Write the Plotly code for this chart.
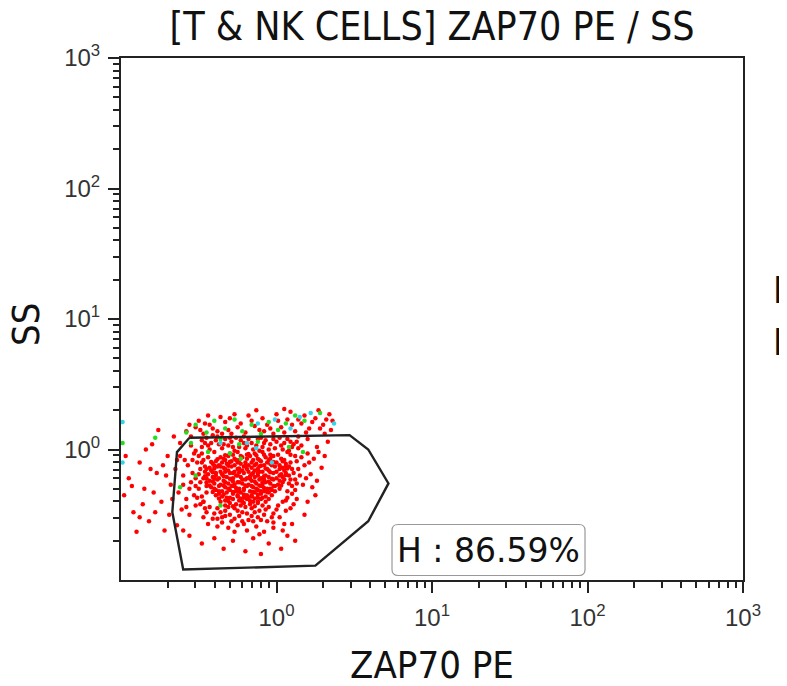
import plotly.graph_objects as go

# event positions in log10 decades: (ZAP70 PE, SS)
red_core = [
    (-0.30, -0.03), (-0.25, -0.02), (-0.19, -0.04), (-0.14, -0.03), (-0.09, -0.02), (-0.04, -0.04),
    (-0.36, -0.06), (-0.31, -0.05), (-0.27, -0.07), (-0.22, -0.06), (-0.17, -0.05), (-0.12, -0.07),
    (-0.07, -0.06), (-0.02, -0.05), (0.03, -0.07),
    (-0.39, -0.09), (-0.33, -0.08), (-0.29, -0.09), (-0.24, -0.08), (-0.20, -0.10), (-0.15, -0.08),
    (-0.10, -0.09), (-0.05, -0.08), (0.00, -0.10),
    (-0.41, -0.11), (-0.37, -0.12), (-0.32, -0.11), (-0.27, -0.12), (-0.23, -0.11), (-0.18, -0.12),
    (-0.13, -0.11), (-0.08, -0.12), (-0.04, -0.11), (0.02, -0.12), (0.06, -0.11),
    (-0.43, -0.14), (-0.38, -0.13), (-0.34, -0.14), (-0.29, -0.13), (-0.25, -0.15), (-0.21, -0.13),
    (-0.16, -0.14), (-0.11, -0.13), (-0.06, -0.15), (-0.01, -0.13), (0.04, -0.14),
    (-0.42, -0.16), (-0.36, -0.17), (-0.31, -0.16), (-0.27, -0.17), (-0.22, -0.16), (-0.18, -0.17),
    (-0.14, -0.16), (-0.09, -0.17), (-0.05, -0.16), (0.00, -0.17), (0.05, -0.16),
    (-0.44, -0.19), (-0.39, -0.18), (-0.35, -0.19), (-0.30, -0.18), (-0.26, -0.20), (-0.21, -0.18),
    (-0.16, -0.19), (-0.12, -0.18), (-0.07, -0.20), (-0.02, -0.18), (0.03, -0.19),
    (-0.41, -0.21), (-0.37, -0.22), (-0.32, -0.21), (-0.28, -0.22), (-0.23, -0.21), (-0.19, -0.22),
    (-0.14, -0.21), (-0.10, -0.22), (-0.05, -0.21), (0.00, -0.22), (0.04, -0.21),
    (-0.43, -0.24), (-0.38, -0.23), (-0.34, -0.24), (-0.29, -0.23), (-0.25, -0.25), (-0.20, -0.23),
    (-0.16, -0.24), (-0.11, -0.23), (-0.07, -0.25), (-0.02, -0.23), (0.02, -0.24),
    (-0.40, -0.26), (-0.36, -0.27), (-0.31, -0.26), (-0.27, -0.27), (-0.22, -0.26), (-0.18, -0.27),
    (-0.13, -0.26), (-0.09, -0.27), (-0.04, -0.26), (0.01, -0.27),
    (-0.42, -0.29), (-0.37, -0.28), (-0.33, -0.29), (-0.28, -0.28), (-0.24, -0.30), (-0.19, -0.28),
    (-0.15, -0.29), (-0.10, -0.28), (-0.06, -0.30), (-0.01, -0.28),
    (-0.39, -0.31), (-0.35, -0.32), (-0.30, -0.31), (-0.26, -0.32), (-0.21, -0.31), (-0.17, -0.32),
    (-0.12, -0.31), (-0.08, -0.32), (-0.03, -0.31),
    (-0.37, -0.34), (-0.32, -0.33), (-0.28, -0.34), (-0.23, -0.33), (-0.19, -0.35), (-0.14, -0.33),
    (-0.10, -0.34), (-0.05, -0.33),
    (-0.35, -0.36), (-0.30, -0.37), (-0.25, -0.36), (-0.21, -0.37), (-0.16, -0.36), (-0.12, -0.37),
    (-0.07, -0.36),
    (-0.33, -0.39), (-0.28, -0.38), (-0.24, -0.39), (-0.19, -0.38), (-0.15, -0.40), (-0.10, -0.38),
    (-0.30, -0.41), (-0.26, -0.42), (-0.21, -0.41), (-0.17, -0.42), (-0.12, -0.41),
]

red_core_fill = [
    (-0.33, -0.045), (-0.28, -0.04), (-0.23, -0.05), (-0.18, -0.035), (-0.13, -0.045), (-0.08, -0.04),
    (-0.03, -0.05), (0.01, -0.04),
    (-0.38, -0.075), (-0.34, -0.07), (-0.26, -0.08), (-0.19, -0.07), (-0.11, -0.08), (-0.04, -0.07),
    (0.05, -0.08),
    (-0.42, -0.095), (-0.35, -0.10), (-0.30, -0.095), (-0.25, -0.10), (-0.16, -0.10), (-0.06, -0.10),
    (-0.02, -0.095), (0.04, -0.09),
    (-0.40, -0.125), (-0.36, -0.13), (-0.31, -0.125), (-0.20, -0.125), (-0.14, -0.12), (-0.10, -0.125),
    (-0.03, -0.12), (0.06, -0.13),
    (-0.45, -0.15), (-0.40, -0.145), (-0.33, -0.15), (-0.24, -0.145), (-0.19, -0.15), (-0.12, -0.15),
    (-0.07, -0.145), (0.02, -0.15), (0.07, -0.145),
    (-0.41, -0.175), (-0.33, -0.17), (-0.28, -0.18), (-0.24, -0.175), (-0.15, -0.18), (-0.11, -0.17),
    (-0.04, -0.175), (0.06, -0.18),
    (-0.46, -0.205), (-0.39, -0.20), (-0.34, -0.205), (-0.25, -0.20), (-0.17, -0.205), (-0.12, -0.20),
    (-0.08, -0.205), (0.02, -0.20), (0.06, -0.195),
    (-0.45, -0.22), (-0.40, -0.225), (-0.30, -0.225), (-0.22, -0.23), (-0.17, -0.225), (-0.08, -0.23),
    (-0.03, -0.225), (0.05, -0.23),
    (-0.41, -0.245), (-0.33, -0.25), (-0.28, -0.245), (-0.24, -0.25), (-0.14, -0.245), (-0.09, -0.25),
    (-0.05, -0.245), (0.04, -0.25),
    (-0.43, -0.275), (-0.34, -0.275), (-0.29, -0.28), (-0.20, -0.275), (-0.16, -0.28), (-0.11, -0.275),
    (-0.02, -0.28), (0.03, -0.275),
    (-0.40, -0.30), (-0.31, -0.30), (-0.26, -0.295), (-0.21, -0.30), (-0.13, -0.30), (-0.08, -0.295),
    (-0.04, -0.30), (0.02, -0.30),
    (-0.41, -0.325), (-0.37, -0.32), (-0.28, -0.325), (-0.24, -0.32), (-0.15, -0.325), (-0.10, -0.32),
    (-0.06, -0.325), (-0.01, -0.32),
    (-0.39, -0.35), (-0.34, -0.345), (-0.25, -0.35), (-0.21, -0.345), (-0.16, -0.35), (-0.12, -0.345),
    (-0.03, -0.35),
    (-0.37, -0.375), (-0.32, -0.37), (-0.23, -0.375), (-0.18, -0.37), (-0.14, -0.375), (-0.09, -0.37),
    (-0.05, -0.38),
    (-0.36, -0.40), (-0.31, -0.395), (-0.22, -0.40), (-0.17, -0.395), (-0.12, -0.40), (-0.07, -0.40),
    (-0.33, -0.43), (-0.28, -0.435), (-0.23, -0.43), (-0.14, -0.435), (-0.09, -0.43),
]

red_shoulder = [
    (-0.44, 0.03), (-0.39, 0.07), (-0.34, 0.04), (-0.30, 0.09), (-0.23, 0.07), (-0.19, 0.03),
    (-0.12, 0.08), (-0.08, 0.05), (-0.02, 0.08), (0.03, 0.03), (0.09, 0.06), (-0.41, 0.11),
    (-0.28, 0.02), (-0.11, -0.01), (0.04, 0.00), (-0.48, 0.07),
    (-0.43, -0.44), (-0.36, -0.48), (-0.31, -0.44), (-0.25, -0.47), (-0.20, -0.44), (-0.14, -0.48),
    (-0.07, -0.46), (-0.03, -0.52), (-0.10, -0.54), (-0.16, -0.51), (-0.27, -0.53), (-0.33, -0.51),
    (-0.38, -0.53), (-0.22, -0.55), (0.01, -0.43), (-0.47, -0.40),
    (-0.48, -0.10), (-0.46, -0.17), (-0.49, -0.25), (-0.45, -0.33), (-0.47, -0.40), (-0.50, -0.19),
    (-0.44, -0.06), (-0.52, -0.28), (-0.51, -0.37), (-0.54, -0.08), (-0.48, -0.03), (-0.45, -0.25),
    (0.07, -0.02), (0.09, -0.10), (0.11, -0.18), (0.08, -0.13), (0.10, -0.28), (0.07, -0.32),
    (0.12, -0.05), (0.06, -0.39), (0.13, -0.26), (0.09, -0.23),
]

red_upper = [
    (-0.48, 0.02), (-0.42, 0.05), (-0.35, 0.01), (-0.29, 0.06), (-0.24, 0.02), (-0.18, 0.08),
    (-0.13, 0.03), (-0.07, 0.07), (-0.01, 0.01), (0.05, 0.05), (0.10, 0.02), (-0.45, 0.09),
    (-0.38, 0.10), (-0.31, 0.03), (-0.21, 0.05), (-0.15, 0.00), (-0.10, 0.09), (-0.04, 0.04),
    (0.02, 0.09), (0.08, -0.01), (0.13, 0.06), (-0.27, -0.01), (-0.40, -0.02), (-0.52, -0.01),
    (-0.46, 0.05), (-0.33, 0.08), (-0.26, 0.09), (-0.20, 0.01), (-0.09, 0.02), (0.00, 0.06),
    (0.07, 0.08), (0.11, 0.04), (-0.37, 0.04), (-0.43, 0.00), (-0.55, 0.03), (0.16, 0.03),
    (-0.16, 0.05), (-0.05, 0.00),
    (-0.58, 0.14), (-0.52, 0.17), (-0.47, 0.12), (-0.43, 0.19), (-0.38, 0.14), (-0.33, 0.21),
    (-0.29, 0.12), (-0.25, 0.17), (-0.20, 0.13), (-0.16, 0.22), (-0.11, 0.15), (-0.06, 0.19),
    (-0.02, 0.12), (0.03, 0.17), (0.07, 0.23), (0.12, 0.14), (0.16, 0.20), (0.21, 0.16),
    (0.25, 0.24), (0.30, 0.19), (0.34, 0.27), (-0.36, 0.25), (-0.27, 0.27), (-0.18, 0.26),
    (-0.09, 0.24), (0.00, 0.27), (0.09, 0.29), (0.18, 0.26), (0.27, 0.30), (-0.50, 0.22),
    (-0.44, 0.26), (0.14, 0.10), (0.20, 0.08), (-0.55, 0.10), (0.31, 0.12), (0.36, 0.22),
    (-0.13, 0.30), (0.05, 0.31),
    (-0.56, 0.19), (-0.49, 0.15), (-0.41, 0.16), (-0.31, 0.15), (-0.23, 0.20), (-0.14, 0.18),
    (-0.04, 0.16), (0.05, 0.13), (0.10, 0.19), (0.19, 0.13), (0.23, 0.21), (-0.35, 0.12),
    (-0.21, 0.10), (-0.08, 0.14), (0.01, 0.22), (0.14, 0.23), (-0.46, 0.20), (-0.30, 0.24),
    (0.28, 0.16), (0.32, 0.23),
]

red_sides = [
    (-0.62, -0.05), (-0.57, -0.12), (-0.53, -0.03), (-0.49, -0.15), (-0.60, -0.20), (-0.55, -0.25),
    (-0.50, -0.30), (-0.47, -0.08), (-0.63, -0.33), (-0.58, -0.38), (-0.52, -0.43), (-0.47, -0.22),
    (-0.48, -0.36), (-0.65, -0.15), (-0.54, -0.18), (-0.61, -0.46), (-0.46, -0.45), (-0.50, -0.05),
    (-0.56, -0.50), (-0.59, -0.08), (-0.51, -0.10), (-0.56, -0.30), (-0.53, -0.35), (-0.60, -0.27),
    (-0.45, -0.28), (-0.49, -0.42), (-0.58, -0.44), (-0.52, -0.22), (-0.46, -0.13), (-0.64, -0.08),
    (-0.47, -0.52),
    (0.09, -0.04), (0.13, -0.09), (0.10, -0.15), (0.15, -0.20), (0.08, -0.26), (0.12, -0.31),
    (0.07, -0.37), (0.18, -0.12), (0.20, -0.03), (0.24, -0.07), (0.17, -0.27), (0.22, -0.19),
    (0.11, -0.42), (0.27, -0.02), (0.14, 0.01), (0.29, -0.14), (0.06, -0.47), (0.08, -0.20),
    (0.12, -0.23), (0.10, -0.34), (0.16, -0.06), (0.14, -0.15), (0.21, -0.10), (0.19, -0.22),
    (0.09, -0.45), (0.04, -0.40), (0.13, -0.38),
    (-0.45, -0.48), (-0.38, -0.45), (-0.33, -0.47), (-0.27, -0.45), (-0.22, -0.48), (-0.16, -0.45),
    (-0.11, -0.47), (-0.05, -0.44), (0.00, -0.46), (-0.41, -0.53), (-0.35, -0.52), (-0.29, -0.55),
    (-0.24, -0.51), (-0.18, -0.54), (-0.12, -0.52), (-0.06, -0.55), (0.02, -0.52), (-0.31, -0.60),
    (-0.25, -0.58), (-0.19, -0.62), (-0.13, -0.59), (-0.08, -0.63), (-0.38, -0.59), (-0.02, -0.60),
    (-0.44, -0.57), (0.05, -0.57), (-0.40, -0.49), (-0.30, -0.50), (-0.19, -0.49), (-0.08, -0.50),
    (-0.02, -0.49), (-0.35, -0.56), (-0.21, -0.57), (-0.15, -0.55), (-0.02, -0.56), (-0.27, -0.63),
    (-0.11, -0.65), (0.04, -0.62),
]

red_outer = [
    (-0.98, -0.35), (-0.95, -0.22), (-0.92, -0.48), (-0.88, -0.10), (-0.85, -0.30), (-0.82, -0.55),
    (-0.80, 0.04), (-0.77, -0.18), (-0.74, -0.40), (-0.72, -0.62), (-0.70, -0.05), (-0.68, -0.27),
    (-0.66, 0.10), (-0.90, -0.63), (-0.76, 0.15), (-0.86, -0.42), (-0.69, -0.50), (-0.97, -0.05),
    (-0.79, -0.33), (-0.73, -0.12), (-0.62, 0.05), (-0.64, -0.58), (-0.60, -0.62), (-0.67, -0.38),
    (-0.71, -0.20), (-0.84, 0.00), (-0.93, -0.28), (-0.78, -0.48), (-0.81, -0.15), (-0.88, -0.52),
    (-0.40, -0.68), (-0.28, -0.70), (-0.15, -0.68), (-0.05, -0.72), (0.07, -0.66), (-0.34, -0.76),
    (-0.20, -0.78), (-0.10, -0.80), (0.03, -0.76), (-0.48, -0.72), (-0.56, -0.66), (0.12, -0.70),
    (0.25, -0.35), (0.31, -0.05), (0.33, 0.06), (0.20, -0.40), (0.26, -0.24), (0.18, -0.50),
    (0.35, 0.15), (0.23, -0.29), (0.10, -0.57), (0.26, 0.02),
]

green_cells = [
    (-0.52, 0.19), (-0.45, 0.13), (-0.40, 0.22), (-0.33, 0.16), (-0.27, 0.23), (-0.22, 0.14),
    (-0.16, 0.19), (-0.10, 0.12), (-0.05, 0.21), (0.01, 0.15), (0.06, 0.20), (0.12, 0.26),
    (0.18, 0.22), (0.28, 0.28), (-0.36, 0.08), (-0.24, 0.04), (-0.12, 0.06), (0.08, 0.02),
    (-0.30, -0.03), (-0.44, -0.02), (-0.62, -0.29), (-0.52, -0.20), (-0.55, 0.05), (-0.23, -0.07),
    (0.17, -0.02), (-0.36, -0.43), (-0.78, 0.09), (-0.58, 0.13), (-0.99, 0.05),
]

cyan_cells = [
    (-0.12, 0.20), (-0.01, 0.23), (0.15, 0.25), (0.37, 0.20), (-0.36, 0.05), (-0.19, 0.05),
    (-0.13, 0.01), (-0.03, -0.10), (0.09, 0.16), (0.22, 0.28), (-0.99, 0.21), (-0.99, -0.10),
]

# gate H polygon vertices (log10 decades)
gate_x_log = [-0.56, 0.47, 0.59, 0.72, 0.59, 0.25, -0.60, -0.67, -0.64, -0.56]
gate_y_log = [0.09, 0.11, 0.00, -0.26, -0.55, -0.89, -0.92, -0.48, -0.02, 0.09]

gate_label = "H : 86.59%"
decades = [1, 10, 100, 1000]
decade_text = ["10<sup>0</sup>", "10<sup>1</sup>", "10<sup>2</sup>", "10<sup>3</sup>"]
minor_ticks = [m * d for d in (0.1, 1, 10, 100) for m in range(2, 10)]


def to_lin(pairs):
    return [10 ** p[0] for p in pairs], [10 ** p[1] for p in pairs]


fig = go.Figure()

red_x, red_y = to_lin(red_core + red_core_fill + red_shoulder + red_upper + red_sides + red_outer)
green_x, green_y = to_lin(green_cells)
cyan_x, cyan_y = to_lin(cyan_cells)

for xs, ys, col in [(red_x, red_y, "#ff0000"), (green_x, green_y, "#22dd22"), (cyan_x, cyan_y, "#33d6e8")]:
    fig.add_trace(go.Scatter(x=xs, y=ys, mode="markers",
                             marker=dict(color=col, size=4.5, line=dict(width=0)),
                             hoverinfo="skip", showlegend=False))

fig.add_trace(go.Scatter(x=[10 ** v for v in gate_x_log], y=[10 ** v for v in gate_y_log],
                         mode="lines", line=dict(color="#222222", width=2.4),
                         hoverinfo="skip", showlegend=False))

axis_common = dict(
    type="log", range=[-1, 3], tickvals=decades, ticktext=decade_text,
    ticks="outside", ticklen=11, tickwidth=2, tickcolor="#222222",
    showline=True, linecolor="#222222", linewidth=2, mirror=True,
    showgrid=False, zeroline=False,
    tickfont=dict(family="Liberation Sans, Arial", size=24, color="#333333"),
    minor=dict(tickvals=minor_ticks, ticks="outside", ticklen=6, tickwidth=1.5,
               tickcolor="#222222", showgrid=False),
)
fig.update_xaxes(**axis_common, ticklabelstandoff=4)
fig.update_yaxes(**axis_common, ticklabelstandoff=3)

# rounded box around the gate label (paper coords)
bx0, bx1, by0, by1 = 0.4357, 0.746, 0.0086, 0.1063
rx, ry = 0.0096, 0.0115
box_path = (f"M {bx0+rx},{by0} L {bx1-rx},{by0} Q {bx1},{by0} {bx1},{by0+ry} "
            f"L {bx1},{by1-ry} Q {bx1},{by1} {bx1-rx},{by1} L {bx0+rx},{by1} "
            f"Q {bx0},{by1} {bx0},{by1-ry} L {bx0},{by0+ry} Q {bx0},{by0} {bx0+rx},{by0} Z")
fig.add_shape(type="path", path=box_path, xref="paper", yref="paper",
              line=dict(color="#999999", width=1.2), fillcolor="white")

cond = "DejaVu Sans Condensed, DejaVu Sans"
fig.add_annotation(xref="paper", yref="paper", x=(bx0 + bx1) / 2, y=(by0 + by1) / 2,
                   text=gate_label, showarrow=False, xanchor="center", yanchor="middle",
                   font=dict(family="DejaVu Sans", size=33, color="#111111"))
fig.add_annotation(xref="paper", yref="paper", x=0.5, y=-0.163, text="ZAP70 PE",
                   showarrow=False, yanchor="middle",
                   font=dict(family=cond, size=38, color="#111111"))
fig.add_annotation(xref="paper", yref="paper", x=-0.153, y=0.49, text="SS", textangle=-90,
                   showarrow=False, xanchor="center",
                   font=dict(family=cond, size=38, color="#111111"))
# clipped labels of the neighbouring panel
fig.add_annotation(xref="paper", yref="paper", x=1.045, y=0.555, text="F", xanchor="left",
                   showarrow=False, font=dict(family=cond, size=37, color="#111111"))
fig.add_annotation(xref="paper", yref="paper", x=1.045, y=0.455, text="P", xanchor="left",
                   showarrow=False, font=dict(family=cond, size=37, color="#111111"))

# page body adds an 8px offset, so margins are set 8px smaller on the top/left
fig.update_layout(
    width=787, height=686,
    margin=dict(l=113, r=52, t=50, b=114),
    paper_bgcolor="white", plot_bgcolor="white",
    title=dict(text="[T &amp; NK CELLS] ZAP70 PE / SS", x=0.5, xref="paper",
               y=0.974, yref="container", yanchor="middle",
               font=dict(family=cond, size=39, color="#111111")),
)

fig.write_html("out.html")
